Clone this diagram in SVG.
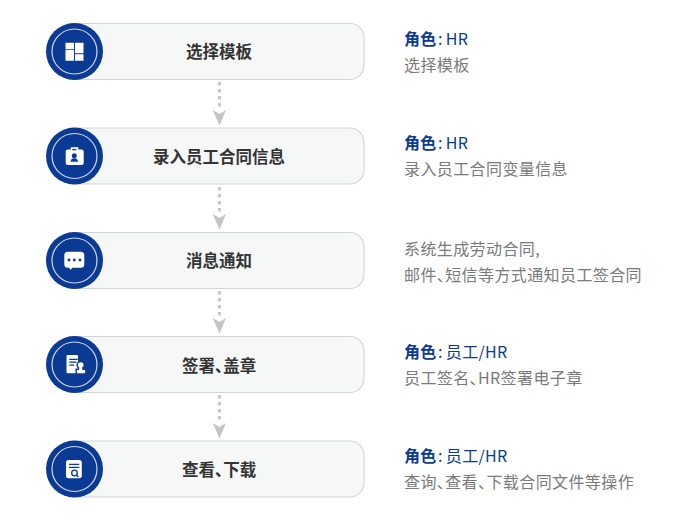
<svg xmlns="http://www.w3.org/2000/svg" width="700" height="523" viewBox="0 0 700 523">
<style>
text{font-family:"Noto Sans CJK SC","Noto Sans",sans-serif}
.box{fill:#f6f7f7;stroke:#d4d6d6;stroke-width:1.2}
.disc{fill:#0a3a94}
.ring{fill:none;stroke:#cfd8ea;stroke-width:1.2}
.ttl{font-size:16.500px;font-weight:700;fill:#333;text-anchor:middle}
.role{font-size:16px;fill:#0a3a94;letter-spacing:.3px}
.role .b{font-weight:700}
.desc{font-size:16px;fill:#7a7a7a;letter-spacing:.4px}
.p{font-feature-settings:"palt"}
.ic{fill:#fff}
.ib{fill:#0a3a94}
.lnk{stroke:#c9c9c9;stroke-width:3;stroke-dasharray:3.500 3.500;fill:none}
.hd{fill:#c4c4c4}
</style>
<rect width="700" height="523" fill="#fff"/>
<g id="connectors">
<path class="lnk" d="M219.500 82V110"/><path class="hd" d="M212.700 110L219.500 114L226 110L219.500 125.500Z"/>
<path class="lnk" d="M219.500 187V214"/><path class="hd" d="M212.700 214L219.500 218L226 214L219.500 229.500Z"/>
<path class="lnk" d="M219.500 291V318"/><path class="hd" d="M212.700 318L219.500 322L226 318L219.500 333.500Z"/>
<path class="lnk" d="M219.500 395V423"/><path class="hd" d="M212.700 423L219.500 427L226 423L219.500 438.500Z"/>
</g>
<g id="node1">
<rect class="box" x="60" y="23.500" width="304" height="56" rx="14"/>
<circle class="disc" cx="74.500" cy="51.500" r="28.500"/><circle class="ring" cx="74.500" cy="51.500" r="22.500"/>
<path class="ic" d="M65.500 42.700H74V49.300H65.500zM65.500 50H74V60.700H65.500zM75 42.700H83.500V53.300H75zM75 54.300H83.500V60.700H75z"/>
<text class="ttl" x="219" y="58">选择模板</text>
</g>
<g id="node2">
<rect class="box" x="60" y="128" width="304" height="56" rx="14"/>
<circle class="disc" cx="74.500" cy="156" r="28.500"/><circle class="ring" cx="74.500" cy="156" r="22.500"/>
<path class="ic" d="M67.500 149.500h3.200v-2.200h7.600v2.200h3.400a2 2 0 0 1 2 2V163a2 2 0 0 1-2 2h-14a2 2 0 0 1-2-2v-11.500a2 2 0 0 1 2-2z"/>
<rect class="ib" x="72.300" y="149" width="4" height="1.300"/><circle class="ib" cx="74.300" cy="155.700" r="2.500"/><path class="ib" d="M70.500 161.800c.3-2.500 1.500-3.500 3.800-3.500s3.500 1 3.800 3.500z"/>
<text class="ttl" x="219" y="163">录入员工合同信息</text>
</g>
<g id="node3">
<rect class="box" x="60" y="232.500" width="304" height="56" rx="14"/>
<circle class="disc" cx="74.500" cy="260.500" r="28.500"/><circle class="ring" cx="74.500" cy="260.500" r="22.500"/>
<path class="ic" d="M67.800 251.700h13a3.500 3.500 0 0 1 3.500 3.500v9a3.500 3.500 0 0 1-3.500 3.500h-8.300l-1.800 2-1.800-2h-1.100a3.500 3.500 0 0 1-3.500-3.500v-9a3.500 3.500 0 0 1 3.500-3.500z"/>
<circle class="ib" cx="69" cy="260" r="1.400"/><circle class="ib" cx="74.300" cy="260" r="1.400"/><circle class="ib" cx="80" cy="260" r="1.400"/>
<text class="ttl" x="219" y="267">消息通知</text>
</g>
<g id="node4">
<rect class="box" x="60" y="336.500" width="304" height="56" rx="14"/>
<circle class="disc" cx="74.500" cy="364.500" r="28.500"/><circle class="ring" cx="74.500" cy="364.500" r="22.500"/>
<path class="ic" d="M67.500 355H77a1 1 0 0 1 1 1v17.300H67.500a1 1 0 0 1-1-1V356a1 1 0 0 1 1-1z"/>
<path class="ib" d="M69.300 358.700H77.700V360H69.300zM69.300 361.500H76.500V362.800H69.300zM69.300 364.400H74V365.700H69.300z"/>
<circle class="ib" cx="80.700" cy="365" r="4.300"/><path class="ib" d="M75.500 368.500H86.500V375H75.500z"/>
<circle class="ic" cx="80.700" cy="365" r="2.800"/><path class="ic" d="M79.500 366h2.400l.5 4h2.700v3.300H77V370h2z"/>
<text class="ttl" x="219" y="371.500">签署<tspan class="p">、</tspan>盖章</text>
</g>
<g id="node5">
<rect class="box" x="60" y="441" width="304" height="56" rx="14"/>
<circle class="disc" cx="74.500" cy="469" r="28.500"/><circle class="ring" cx="74.500" cy="469" r="22.500"/>
<rect class="ic" x="66" y="460" width="15.800" height="18.300" rx="2.500"/>
<path class="ib" d="M69 463.700H79.300V465H69zM69 466.800H79.300V468.100H69z"/>
<circle cx="74.500" cy="473" r="2.800" fill="none" stroke="#0a3a94" stroke-width="1.300"/><path d="M76.500 475l2 2" stroke="#0a3a94" stroke-width="1.400"/>
<text class="ttl" x="219" y="476">查看<tspan class="p">、</tspan>下载</text>
</g>
<g id="labels">
<text class="role" x="404" y="45"><tspan class="b">角色</tspan><tspan dx="1.500">:</tspan><tspan dx="3">HR</tspan></text>
<text class="desc" x="404" y="71">选择模板</text>
<text class="role" x="404" y="149"><tspan class="b">角色</tspan><tspan dx="1.500">:</tspan><tspan dx="3">HR</tspan></text>
<text class="desc" x="404" y="175">录入员工合同变量信息</text>
<text class="desc" x="404" y="255">系统生成劳动合同,</text>
<text class="desc" x="404" y="281">邮件<tspan class="p">、</tspan>短信等方式通知员工签合同</text>
<text class="role" x="404" y="358"><tspan class="b">角色</tspan><tspan dx="1.500">:</tspan><tspan dx="3">员工/HR</tspan></text>
<text class="desc" x="404" y="384">员工签名<tspan class="p">、</tspan>HR签署电子章</text>
<text class="role" x="404" y="462"><tspan class="b">角色</tspan><tspan dx="1.500">:</tspan><tspan dx="3">员工/HR</tspan></text>
<text class="desc" x="404" y="488">查询<tspan class="p">、</tspan>查看<tspan class="p">、</tspan>下载合同文件等操作</text>
</g>
</svg>
